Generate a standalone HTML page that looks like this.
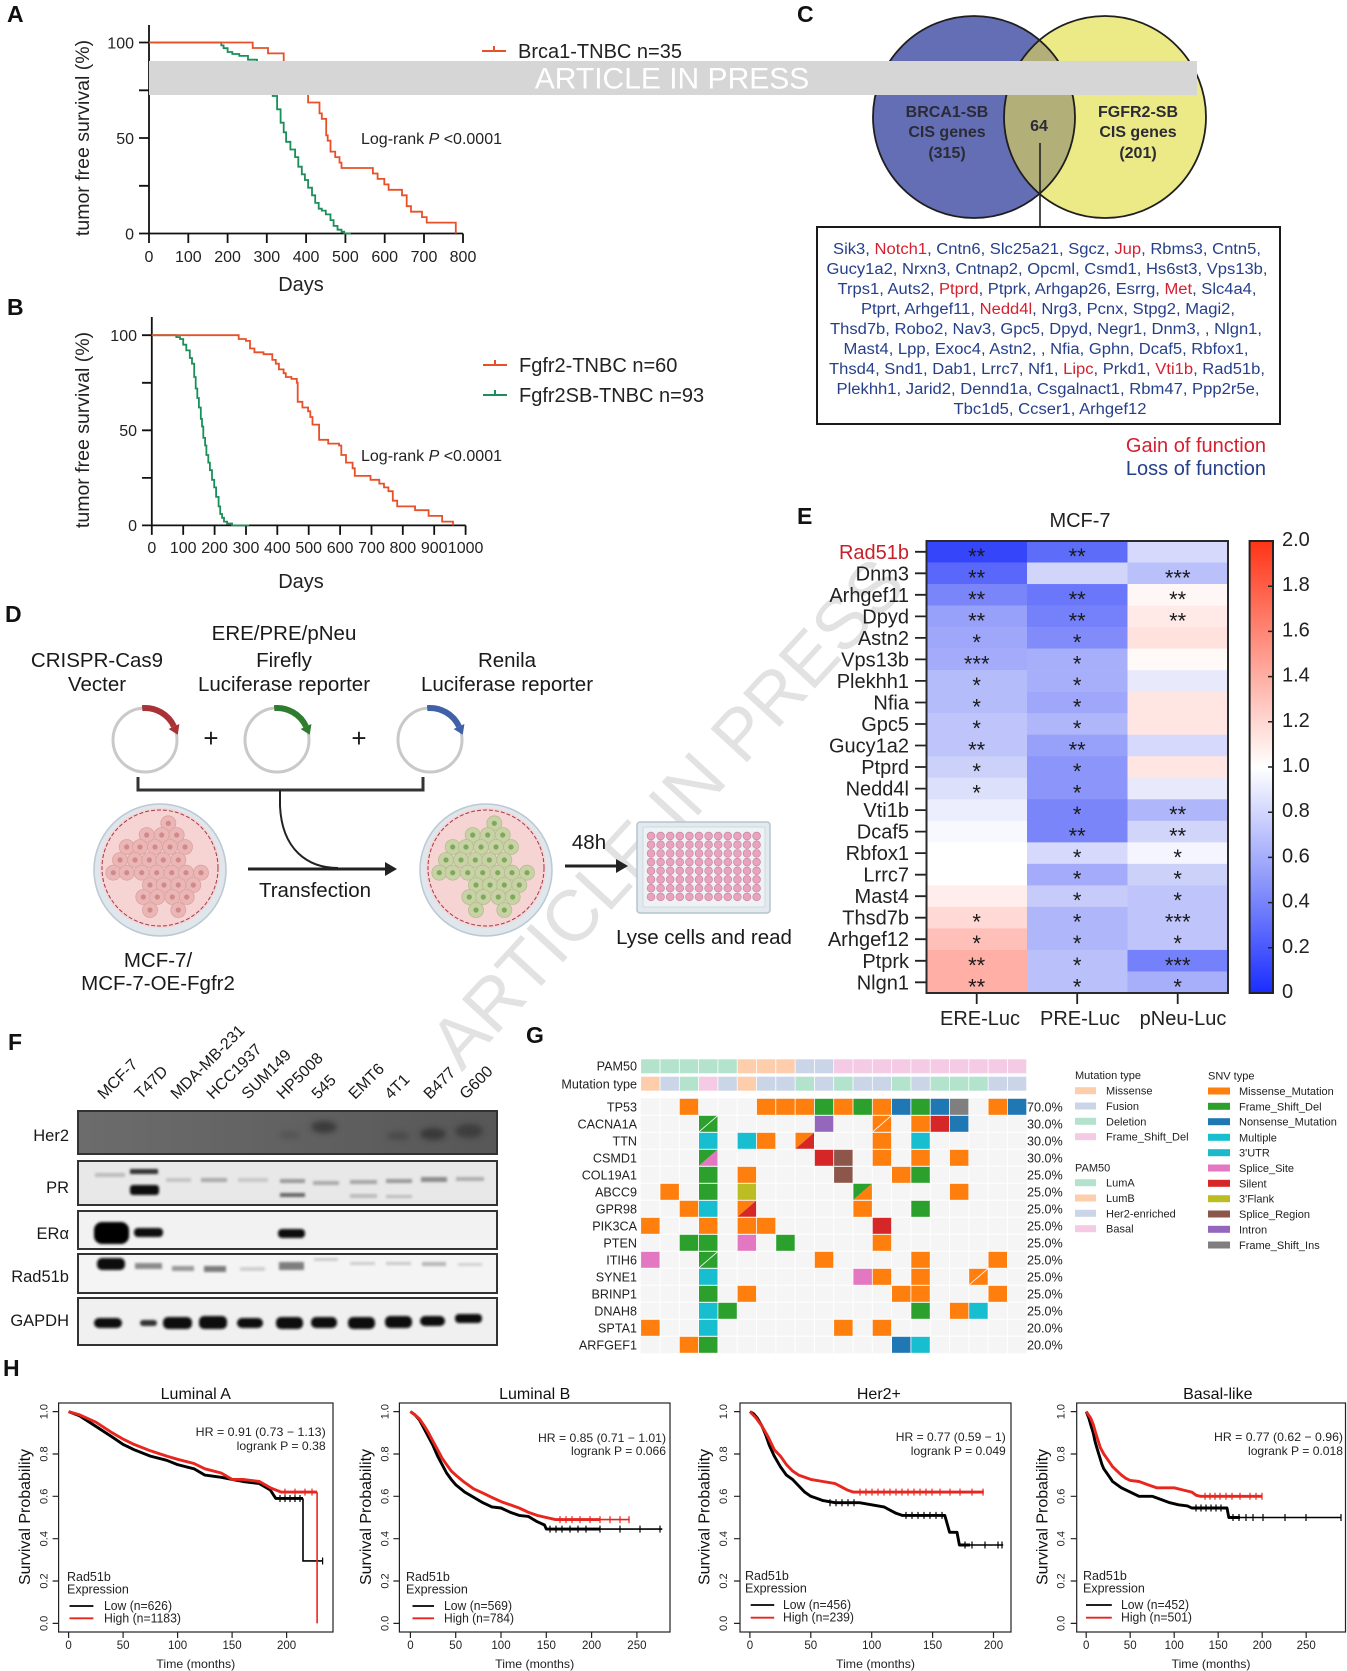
<!DOCTYPE html>
<html><head><meta charset="utf-8"><style>html,body{margin:0;padding:0;background:#fff}svg{display:block}</style></head>
<body>
<svg xmlns="http://www.w3.org/2000/svg" width="1347" height="1671" viewBox="0 0 1347 1671" font-family="'Liberation Sans', Arial, sans-serif">
<defs>
<filter id="b1" x="-50%" y="-50%" width="200%" height="200%"><feGaussianBlur stdDeviation="1.3"/></filter>
<filter id="b3" x="-50%" y="-50%" width="200%" height="200%"><feGaussianBlur stdDeviation="3"/></filter>
<linearGradient id="cbar" x1="0" y1="0" x2="0" y2="1">
<stop offset="0" stop-color="#ff3416"/><stop offset="0.25" stop-color="#ff9a8c"/><stop offset="0.5" stop-color="#ffffff"/><stop offset="0.75" stop-color="#8f99fb"/><stop offset="1" stop-color="#1a2dff"/></linearGradient>
<linearGradient id="her2bg" x1="0" y1="0" x2="1" y2="0"><stop offset="0" stop-color="#6c6c6c"/><stop offset="1" stop-color="#575757"/></linearGradient>
<clipPath id="blueclip"><circle cx="974" cy="117" r="101"/></clipPath>
</defs>
<rect width="1347" height="1671" fill="#fff"/>

<!-- Diagonal watermark (behind everything) -->
<text transform="translate(666,812) rotate(-47.4)" y="26" font-size="72" text-anchor="middle" textLength="660" lengthAdjust="spacingAndGlyphs" fill="#e2e2e2">ARTICLE IN PRESS</text>

<!-- Panel letters -->
<g font-weight="bold" font-size="23" fill="#111">
<text x="7" y="22">A</text><text x="7" y="315">B</text><text x="797" y="22">C</text><text x="5" y="622">D</text><text x="797" y="524">E</text><text x="8" y="1050">F</text><text x="526" y="1043">G</text><text x="3" y="1376">H</text>
</g>

<!-- ============ Panel A ============ -->
<g stroke="#111" stroke-width="1.8" fill="none">
<path d="M149,25 V233.5 H463"/>
<path d="M139,42.5 H149 M139,90.3 H149 M139,138 H149 M139,185.8 H149 M139,233.5 H149"/>
<path d="M149,233.5 v9.5 M188.3,233.5 v9.5 M227.6,233.5 v9.5 M266.8,233.5 v9.5 M306.1,233.5 v9.5 M345.4,233.5 v9.5 M384.7,233.5 v9.5 M424,233.5 v9.5 M463,233.5 v9.5"/>
</g>
<g font-size="16" fill="#222">
<g text-anchor="end"><text x="134" y="48.5">100</text><text x="134" y="144">50</text><text x="134" y="239.5">0</text></g>
<g text-anchor="middle"><text x="149" y="262">0</text><text x="188.3" y="262">100</text><text x="227.6" y="262">200</text><text x="266.8" y="262">300</text><text x="306.1" y="262">400</text><text x="345.4" y="262">500</text><text x="384.7" y="262">600</text><text x="424" y="262">700</text><text x="463" y="262">800</text></g>
<text x="361" y="144">Log-rank <tspan font-style="italic">P</tspan> &lt;0.0001</text>
</g>
<text x="301" y="291" font-size="20" text-anchor="middle" fill="#222">Days</text>
<text transform="translate(82,138) rotate(-90)" y="7" font-size="19.5" text-anchor="middle" fill="#222">tumor free survival (%)</text>
<path fill="none" stroke="#1a8f5a" stroke-width="1.8" d="M149,42.5 H221.3 V45.4 H223.6 V48.2 H227.6 V52 H232.3 V54 H239.3 V55.9 H248 V59.7 H257 V65.4 H262.9 V71.2 H266.8 V84.5 H272.7 V96 H277.1 V109.3 H280.6 V122.7 H283.7 V132.3 H286.1 V141.8 H290.4 V149.5 H295.1 V157.1 H298.3 V166.7 H301.8 V174.3 H304.9 V180 H308.1 V187.7 H312 V195.3 H315.2 V202.9 H318.7 V208.7 H321.8 V210.6 H325.8 V214.4 H330.5 V220.1 H333.6 V225.9 H337.5 V229.7 H341.5 V231.6 H344.2 V233.5 H350.9"/>
<path fill="none" stroke="#e8502a" stroke-width="1.8" d="M149,42.5 H252.7 V48 H268 V53.4 H283.7 V69.8 H294.3 V80.7 H306.1 V91.6 H308.1 V102.5 H319.5 V113.4 H321.8 V118.9 H326.2 V135.3 H327.7 V140.7 H330.5 V151.6 H335.2 V157.1 H339.5 V162.6 H341.5 V168 H372.9 V173.5 H377.6 V178.9 H384.3 V184.4 H388.6 V189.8 H402 V195.3 H406.7 V206.2 H411 V211.7 H422 V217.1 H426.7 V222.6 H455.8 V233.5"/>
<path d="M482,51 H506 M494,46 V51" stroke="#e8502a" stroke-width="2" fill="none"/>
<text x="518" y="58" font-size="20" fill="#222">Brca1-TNBC n=35</text>

<!-- ============ Panel B ============ -->
<g stroke="#111" stroke-width="1.8" fill="none">
<path d="M151.8,317 V525.4 H465.6"/>
<path d="M142,335.2 H151.8 M142,382.8 H151.8 M142,430.3 H151.8 M142,477.9 H151.8 M142,525.4 H151.8"/>
<path d="M151.8,525.4 v9.5 M183.2,525.4 v9.5 M214.6,525.4 v9.5 M246,525.4 v9.5 M277.3,525.4 v9.5 M308.7,525.4 v9.5 M340.1,525.4 v9.5 M371.5,525.4 v9.5 M402.8,525.4 v9.5 M434.2,525.4 v9.5 M465.6,525.4 v9.5"/>
</g>
<g font-size="16" fill="#222">
<g text-anchor="end"><text x="137" y="341">100</text><text x="137" y="436">50</text><text x="137" y="531">0</text></g>
<g text-anchor="middle"><text x="151.8" y="553">0</text><text x="183.2" y="553">100</text><text x="214.6" y="553">200</text><text x="246" y="553">300</text><text x="277.3" y="553">400</text><text x="308.7" y="553">500</text><text x="340.1" y="553">600</text><text x="371.5" y="553">700</text><text x="402.8" y="553">800</text><text x="434.2" y="553">900</text><text x="465.6" y="553">1000</text></g>
<text x="361" y="461">Log-rank <tspan font-style="italic">P</tspan> &lt;0.0001</text>
</g>
<text x="301" y="588" font-size="20" text-anchor="middle" fill="#222">Days</text>
<text transform="translate(82,430) rotate(-90)" y="7" font-size="19.5" text-anchor="middle" fill="#222">tumor free survival (%)</text>
<path fill="none" stroke="#1a8f5a" stroke-width="1.8" d="M151.8,335.2 H176.3 V337.1 H180 V339 H183.2 V344.7 H186.3 V350.4 H189.8 V358 H192 V363.7 H194.2 V377 H195.7 V388.5 H197.3 V398 H198.9 V407.5 H200.8 V418.9 H202 V426.5 H203.3 V437.9 H205.1 V445.5 H206.4 V455 H208.3 V462.6 H209.9 V470.2 H212 V479.8 H214.2 V487.4 H216.1 V496.9 H218.6 V506.4 H220.2 V514 H222.1 V517.8 H224 V521.6 H227.1 V523.5 H232.1 V525.4 H249.1"/>
<path fill="none" stroke="#e8502a" stroke-width="1.8" d="M151.8,335.2 H238.7 V339 H245.9 V340.9 H250 V348.5 H254.4 V352.3 H263.5 V354.2 H272.3 V359.9 H275.8 V363.7 H278.9 V369.4 H283.6 V373.2 H285.8 V377 H291.4 V378.9 H296.8 V382.7 H297.7 V401.8 H302.4 V407.5 H308.1 V411.3 H310.3 V417 H312.5 V424.6 H319.1 V439.8 H328.2 V443.6 H339.1 V445.5 H341.3 V455 H346 V462.6 H352.6 V468.3 H354.8 V475.9 H370.5 V479.8 H379.3 V483.6 H384 V487.4 H388.4 V491.2 H392.8 V500.7 H397.2 V506.4 H415.1 V510.2 H428.6 V515.9 H442.1 V521.6 H453 V525.4"/>
<path d="M483,365 H507 M495,360 V365" stroke="#e8502a" stroke-width="2" fill="none"/>
<path d="M483,395 H507 M495,390 V395" stroke="#1a8f5a" stroke-width="2" fill="none"/>
<g font-size="20" fill="#222"><text x="519" y="372">Fgfr2-TNBC n=60</text><text x="519" y="402">Fgfr2SB-TNBC n=93</text></g>

<!-- ============ Panel C (Venn) ============ -->
<circle cx="974" cy="117" r="101" fill="#646eb4"/>
<circle cx="1105" cy="117" r="101" fill="#ebea86"/>
<circle cx="1105" cy="117" r="101" fill="#b3af79" clip-path="url(#blueclip)"/>
<circle cx="974" cy="117" r="101" fill="none" stroke="#1e1e1e" stroke-width="1.8"/>
<circle cx="1105" cy="117" r="101" fill="none" stroke="#1e1e1e" stroke-width="1.8"/>
<g font-size="16" font-weight="bold" fill="#2b2b36" text-anchor="middle">
<text x="947" y="117">BRCA1-SB</text><text x="947" y="137">CIS genes</text><text x="947" y="158">(315)</text>
<text x="1138" y="117">FGFR2-SB</text><text x="1138" y="137">CIS genes</text><text x="1138" y="158">(201)</text>
<text x="1039" y="131">64</text>
</g>
<line x1="1040" y1="143" x2="1040" y2="227" stroke="#222" stroke-width="1.6"/>
<rect x="817" y="227" width="463" height="197" fill="#fff" stroke="#1a1a1a" stroke-width="2"/>
<g font-size="15.5" fill="#253f8a" text-anchor="middle">
<text x="1047" y="254" textLength="428" lengthAdjust="spacingAndGlyphs">Sik3, <tspan fill="#d42030">Notch1</tspan>, Cntn6, Slc25a21, Sgcz, <tspan fill="#d42030">Jup</tspan>, Rbms3, Cntn5,</text>
<text x="1047" y="274" textLength="441" lengthAdjust="spacingAndGlyphs">Gucy1a2, Nrxn3, Cntnap2, Opcml, Csmd1, Hs6st3, Vps13b,</text>
<text x="1047" y="294" textLength="419" lengthAdjust="spacingAndGlyphs">Trps1, Auts2, <tspan fill="#d42030">Ptprd</tspan>, Ptprk, Arhgap26, Esrrg, <tspan fill="#d42030">Met</tspan>, Slc4a4,</text>
<text x="1048" y="314" textLength="374" lengthAdjust="spacingAndGlyphs">Ptprt, Arhgef11, <tspan fill="#d42030">Nedd4l</tspan>, Nrg3, Pcnx, Stpg2, Magi2,</text>
<text x="1046" y="334" textLength="432" lengthAdjust="spacingAndGlyphs">Thsd7b, Robo2, Nav3, Gpc5, Dpyd, Negr1, Dnm3, , Nlgn1,</text>
<text x="1046" y="354" textLength="405" lengthAdjust="spacingAndGlyphs">Mast4, Lpp, Exoc4, Astn2, , Nfia, Gphn, Dcaf5, Rbfox1,</text>
<text x="1047" y="374" textLength="436" lengthAdjust="spacingAndGlyphs">Thsd4, Snd1, Dab1, Lrrc7, Nf1, <tspan fill="#d42030">Lipc</tspan>, Prkd1, <tspan fill="#d42030">Vti1b</tspan>, Rad51b,</text>
<text x="1048" y="394" textLength="423" lengthAdjust="spacingAndGlyphs">Plekhh1, Jarid2, Dennd1a, Csgalnact1, Rbm47, Ppp2r5e,</text>
<text x="1050" y="414" textLength="193" lengthAdjust="spacingAndGlyphs">Tbc1d5, Ccser1, Arhgef12</text>
</g>
<g font-size="20" text-anchor="end"><text x="1266" y="452" fill="#d42030">Gain of function</text><text x="1266" y="475" fill="#253f8a">Loss of function</text></g>

<!-- Banner -->
<rect x="149" y="61" width="1048" height="34" fill="#d6d6d6"/>
<text x="672" y="88.5" font-size="30" fill="#fff" text-anchor="middle">ARTICLE IN PRESS</text>

<!-- ============ Panel D ============ -->
<g font-size="20.5" fill="#1a1a1a" text-anchor="middle">
<text x="97" y="667">CRISPR-Cas9</text><text x="97" y="691">Vecter</text>
<text x="284" y="640">ERE/PRE/pNeu</text><text x="284" y="667">Firefly</text><text x="284" y="691">Luciferase reporter</text>
<text x="507" y="667">Renila</text><text x="507" y="691">Luciferase reporter</text>
<text x="315" y="897">Transfection</text>
<text x="589" y="849">48h</text>
<text x="704" y="944">Lyse cells and read</text>
<text x="158" y="967">MCF-7/</text><text x="158" y="990">MCF-7-OE-Fgfr2</text>
</g>
<g fill="none" stroke="#c9c9c9" stroke-width="3"><circle cx="145" cy="740" r="32"/><circle cx="277" cy="740" r="32"/><circle cx="430" cy="740" r="32"/></g>
<path d="M142.2,708.1 A32,32 0 0 1 174,726.5" fill="none" stroke="#a83238" stroke-width="6"/>
<polygon points="179.4,724 168.6,729 177.8,734.7" fill="#a83238"/>
<path d="M274.2,708.1 A32,32 0 0 1 306,726.5" fill="none" stroke="#2e7d2e" stroke-width="6"/>
<polygon points="311.4,724 300.6,729 309.8,734.7" fill="#2e7d2e"/>
<path d="M427.2,708.1 A32,32 0 0 1 459,726.5" fill="none" stroke="#4060a8" stroke-width="6"/>
<polygon points="464.4,724 453.6,729 462.8,734.7" fill="#4060a8"/>
<g font-size="26" fill="#1a1a1a" text-anchor="middle"><text x="211" y="747">+</text><text x="359" y="747">+</text></g>
<path d="M138,777 V790 H423 V777" fill="none" stroke="#333" stroke-width="3"/>
<path d="M280,790 V806 C282,850 308,868 338,868" fill="none" stroke="#222" stroke-width="2"/>
<line x1="248" y1="869" x2="386" y2="869" stroke="#222" stroke-width="3"/>
<polygon points="385,862 397,869 385,876" fill="#222"/>
<line x1="565" y1="866" x2="617" y2="866" stroke="#222" stroke-width="3"/>
<polygon points="616,859 628,866 616,873" fill="#222"/>
<!-- dish 1 -->
<circle cx="160" cy="870" r="66" fill="#dfe6ec" stroke="#bcc9d3" stroke-width="1.5"/>
<circle cx="160" cy="868" r="60" fill="#f7d4d4"/>
<circle cx="160" cy="868" r="58" fill="none" stroke="#a33a4a" stroke-width="1" stroke-dasharray="4 2"/>
<g fill="#ebb6b6" stroke="#dba2a2" stroke-width="0.8">
<circle cx="168.3" cy="823.3" r="7.5"/><circle cx="146.7" cy="835" r="7.5"/><circle cx="161.7" cy="835" r="7.5"/><circle cx="176.7" cy="835" r="7.5"/>
<circle cx="126.7" cy="847" r="7.5"/><circle cx="140" cy="847" r="7.5"/><circle cx="155" cy="847" r="7.5"/><circle cx="170" cy="847" r="7.5"/><circle cx="185" cy="847" r="7.5"/>
<circle cx="120" cy="860" r="7.5"/><circle cx="135" cy="860" r="7.5"/><circle cx="149.3" cy="860" r="7.5"/><circle cx="163.3" cy="860" r="7.5"/><circle cx="178.3" cy="860" r="7.5"/>
<circle cx="113.3" cy="872.7" r="7.5"/><circle cx="126.7" cy="872.7" r="7.5"/><circle cx="141.7" cy="872.7" r="7.5"/><circle cx="156.7" cy="872.7" r="7.5"/><circle cx="171.7" cy="872.7" r="7.5"/><circle cx="186" cy="872.7" r="7.5"/><circle cx="201" cy="872.7" r="7.5"/>
<circle cx="150" cy="885" r="7.5"/><circle cx="164" cy="885" r="7.5"/><circle cx="178.3" cy="885" r="7.5"/><circle cx="193.3" cy="885" r="7.5"/>
<circle cx="143.3" cy="897" r="7.5"/><circle cx="157.3" cy="897" r="7.5"/><circle cx="172.3" cy="897" r="7.5"/><circle cx="186.7" cy="897" r="7.5"/>
<circle cx="150" cy="910" r="7.5"/><circle cx="178.3" cy="910" r="7.5"/>
</g>
<g fill="#d08a8a">
<circle cx="168.3" cy="823.3" r="2.6"/><circle cx="146.7" cy="835" r="2.6"/><circle cx="161.7" cy="835" r="2.6"/><circle cx="176.7" cy="835" r="2.6"/>
<circle cx="126.7" cy="847" r="2.6"/><circle cx="140" cy="847" r="2.6"/><circle cx="155" cy="847" r="2.6"/><circle cx="170" cy="847" r="2.6"/><circle cx="185" cy="847" r="2.6"/>
<circle cx="120" cy="860" r="2.6"/><circle cx="135" cy="860" r="2.6"/><circle cx="149.3" cy="860" r="2.6"/><circle cx="163.3" cy="860" r="2.6"/><circle cx="178.3" cy="860" r="2.6"/>
<circle cx="113.3" cy="872.7" r="2.6"/><circle cx="126.7" cy="872.7" r="2.6"/><circle cx="141.7" cy="872.7" r="2.6"/><circle cx="156.7" cy="872.7" r="2.6"/><circle cx="171.7" cy="872.7" r="2.6"/><circle cx="186" cy="872.7" r="2.6"/><circle cx="201" cy="872.7" r="2.6"/>
<circle cx="150" cy="885" r="2.6"/><circle cx="164" cy="885" r="2.6"/><circle cx="178.3" cy="885" r="2.6"/><circle cx="193.3" cy="885" r="2.6"/>
<circle cx="143.3" cy="897" r="2.6"/><circle cx="157.3" cy="897" r="2.6"/><circle cx="172.3" cy="897" r="2.6"/><circle cx="186.7" cy="897" r="2.6"/>
<circle cx="150" cy="910" r="2.6"/><circle cx="178.3" cy="910" r="2.6"/>
</g>
<!-- dish 2 -->
<circle cx="486" cy="870" r="66" fill="#dfe6ec" stroke="#bcc9d3" stroke-width="1.5"/>
<circle cx="486" cy="868" r="60" fill="#f7d4d4"/>
<circle cx="486" cy="868" r="58" fill="none" stroke="#a33a4a" stroke-width="1" stroke-dasharray="4 2"/>
<g transform="translate(326,0)">
<g fill="#c8d2a6" stroke="#b2bf8c" stroke-width="0.8">
<circle cx="168.3" cy="823.3" r="7.5"/><circle cx="146.7" cy="835" r="7.5"/><circle cx="161.7" cy="835" r="7.5"/><circle cx="176.7" cy="835" r="7.5"/>
<circle cx="126.7" cy="847" r="7.5"/><circle cx="140" cy="847" r="7.5"/><circle cx="155" cy="847" r="7.5"/><circle cx="170" cy="847" r="7.5"/><circle cx="185" cy="847" r="7.5"/>
<circle cx="120" cy="860" r="7.5"/><circle cx="135" cy="860" r="7.5"/><circle cx="149.3" cy="860" r="7.5"/><circle cx="163.3" cy="860" r="7.5"/><circle cx="178.3" cy="860" r="7.5"/>
<circle cx="113.3" cy="872.7" r="7.5"/><circle cx="126.7" cy="872.7" r="7.5"/><circle cx="141.7" cy="872.7" r="7.5"/><circle cx="156.7" cy="872.7" r="7.5"/><circle cx="171.7" cy="872.7" r="7.5"/><circle cx="186" cy="872.7" r="7.5"/><circle cx="201" cy="872.7" r="7.5"/>
<circle cx="150" cy="885" r="7.5"/><circle cx="164" cy="885" r="7.5"/><circle cx="178.3" cy="885" r="7.5"/><circle cx="193.3" cy="885" r="7.5"/>
<circle cx="143.3" cy="897" r="7.5"/><circle cx="157.3" cy="897" r="7.5"/><circle cx="172.3" cy="897" r="7.5"/><circle cx="186.7" cy="897" r="7.5"/>
<circle cx="150" cy="910" r="7.5"/><circle cx="178.3" cy="910" r="7.5"/>
</g>
<g fill="#7fa95a">
<circle cx="168.3" cy="823.3" r="2.6"/><circle cx="146.7" cy="835" r="2.6"/><circle cx="161.7" cy="835" r="2.6"/><circle cx="176.7" cy="835" r="2.6"/>
<circle cx="126.7" cy="847" r="2.6"/><circle cx="140" cy="847" r="2.6"/><circle cx="155" cy="847" r="2.6"/><circle cx="170" cy="847" r="2.6"/><circle cx="185" cy="847" r="2.6"/>
<circle cx="120" cy="860" r="2.6"/><circle cx="135" cy="860" r="2.6"/><circle cx="149.3" cy="860" r="2.6"/><circle cx="163.3" cy="860" r="2.6"/><circle cx="178.3" cy="860" r="2.6"/>
<circle cx="113.3" cy="872.7" r="2.6"/><circle cx="126.7" cy="872.7" r="2.6"/><circle cx="141.7" cy="872.7" r="2.6"/><circle cx="156.7" cy="872.7" r="2.6"/><circle cx="171.7" cy="872.7" r="2.6"/><circle cx="186" cy="872.7" r="2.6"/><circle cx="201" cy="872.7" r="2.6"/>
<circle cx="150" cy="885" r="2.6"/><circle cx="164" cy="885" r="2.6"/><circle cx="178.3" cy="885" r="2.6"/><circle cx="193.3" cy="885" r="2.6"/>
<circle cx="143.3" cy="897" r="2.6"/><circle cx="157.3" cy="897" r="2.6"/><circle cx="172.3" cy="897" r="2.6"/><circle cx="186.7" cy="897" r="2.6"/>
<circle cx="150" cy="910" r="2.6"/><circle cx="178.3" cy="910" r="2.6"/>
</g>
</g>
<!-- plate -->
<rect x="637" y="822" width="133" height="91" rx="3" fill="#e2eaef" stroke="#b5c5cf" stroke-width="1.5"/>
<rect x="643" y="827" width="122" height="80" fill="#edf2f5" stroke="#c8d4db" stroke-width="0.8"/>
<g fill="#e9a3bd" stroke="#c87c9a" stroke-width="0.6" id="wellrow">
<circle cx="651" cy="836" r="3.9"/><circle cx="660.6" cy="836" r="3.9"/><circle cx="670.2" cy="836" r="3.9"/><circle cx="679.8" cy="836" r="3.9"/><circle cx="689.4" cy="836" r="3.9"/><circle cx="699" cy="836" r="3.9"/><circle cx="708.6" cy="836" r="3.9"/><circle cx="718.2" cy="836" r="3.9"/><circle cx="727.8" cy="836" r="3.9"/><circle cx="737.4" cy="836" r="3.9"/><circle cx="747" cy="836" r="3.9"/><circle cx="756.6" cy="836" r="3.9"/>
</g>
<use href="#wellrow" y="8.7"/><use href="#wellrow" y="17.4"/><use href="#wellrow" y="26.1"/><use href="#wellrow" y="34.8"/><use href="#wellrow" y="43.5"/><use href="#wellrow" y="52.2"/><use href="#wellrow" y="60.9"/>

<!-- ============ Panel E (heatmap) ============ -->
<text x="1080" y="527" font-size="20" text-anchor="middle" fill="#222">MCF-7</text>
<g font-size="20" fill="#222">
<g><rect x="926.5" y="541" width="100.6" height="21.8" fill="#3546fa"/><rect x="1027" y="541" width="100.6" height="21.8" fill="#5e6cfa"/><rect x="1127.5" y="541" width="100.5" height="21.8" fill="#d6d9fb"/><text x="909" y="558.8" text-anchor="end" fill="#c8202a">Rad51b</text></g>
<g transform="translate(0,21.52)"><rect x="926.5" y="541" width="100.6" height="21.8" fill="#5968fa"/><rect x="1027" y="541" width="100.6" height="21.8" fill="#d1d5fa"/><rect x="1127.5" y="541" width="100.5" height="21.8" fill="#bac0fa"/><text x="909" y="558.8" text-anchor="end">Dnm3</text></g>
<g transform="translate(0,43.05)"><rect x="926.5" y="541" width="100.6" height="21.8" fill="#7a85fa"/><rect x="1027" y="541" width="100.6" height="21.8" fill="#6a77fa"/><rect x="1127.5" y="541" width="100.5" height="21.8" fill="#fff7f6"/><text x="909" y="558.8" text-anchor="end">Arhgef11</text></g>
<g transform="translate(0,64.57)"><rect x="926.5" y="541" width="100.6" height="21.8" fill="#98a1fa"/><rect x="1027" y="541" width="100.6" height="21.8" fill="#7581fa"/><rect x="1127.5" y="541" width="100.5" height="21.8" fill="#ffeae8"/><text x="909" y="558.8" text-anchor="end">Dpyd</text></g>
<g transform="translate(0,86.1)"><rect x="926.5" y="541" width="100.6" height="21.8" fill="#9ea7fa"/><rect x="1027" y="541" width="100.6" height="21.8" fill="#818cfa"/><rect x="1127.5" y="541" width="100.5" height="21.8" fill="#ffe2de"/><text x="909" y="558.8" text-anchor="end">Astn2</text></g>
<g transform="translate(0,107.62)"><rect x="926.5" y="541" width="100.6" height="21.8" fill="#a3abfa"/><rect x="1027" y="541" width="100.6" height="21.8" fill="#a8affa"/><rect x="1127.5" y="541" width="100.5" height="21.8" fill="#fff9f8"/><text x="909" y="558.8" text-anchor="end">Vps13b</text></g>
<g transform="translate(0,129.14)"><rect x="926.5" y="541" width="100.6" height="21.8" fill="#b5bcfa"/><rect x="1027" y="541" width="100.6" height="21.8" fill="#a8affa"/><rect x="1127.5" y="541" width="100.5" height="21.8" fill="#e8eafc"/><text x="909" y="558.8" text-anchor="end">Plekhh1</text></g>
<g transform="translate(0,150.67)"><rect x="926.5" y="541" width="100.6" height="21.8" fill="#b5bcfa"/><rect x="1027" y="541" width="100.6" height="21.8" fill="#9ea7fa"/><rect x="1127.5" y="541" width="100.5" height="21.8" fill="#ffe6e3"/><text x="909" y="558.8" text-anchor="end">Nfia</text></g>
<g transform="translate(0,172.19)"><rect x="926.5" y="541" width="100.6" height="21.8" fill="#bfc4fa"/><rect x="1027" y="541" width="100.6" height="21.8" fill="#afb6fa"/><rect x="1127.5" y="541" width="100.5" height="21.8" fill="#ffe6e3"/><text x="909" y="558.8" text-anchor="end">Gpc5</text></g>
<g transform="translate(0,193.72)"><rect x="926.5" y="541" width="100.6" height="21.8" fill="#bfc4fa"/><rect x="1027" y="541" width="100.6" height="21.8" fill="#98a1fa"/><rect x="1127.5" y="541" width="100.5" height="21.8" fill="#d6d9fb"/><text x="909" y="558.8" text-anchor="end">Gucy1a2</text></g>
<g transform="translate(0,215.24)"><rect x="926.5" y="541" width="100.6" height="21.8" fill="#ccd1fa"/><rect x="1027" y="541" width="100.6" height="21.8" fill="#8c96fa"/><rect x="1127.5" y="541" width="100.5" height="21.8" fill="#ffe6e3"/><text x="909" y="558.8" text-anchor="end">Ptprd</text></g>
<g transform="translate(0,236.76)"><rect x="926.5" y="541" width="100.6" height="21.8" fill="#dde0fb"/><rect x="1027" y="541" width="100.6" height="21.8" fill="#8c96fa"/><rect x="1127.5" y="541" width="100.5" height="21.8" fill="#e8eafc"/><text x="909" y="558.8" text-anchor="end">Nedd4l</text></g>
<g transform="translate(0,258.29)"><rect x="926.5" y="541" width="100.6" height="21.8" fill="#edeefd"/><rect x="1027" y="541" width="100.6" height="21.8" fill="#7a85fa"/><rect x="1127.5" y="541" width="100.5" height="21.8" fill="#afb6fa"/><text x="909" y="558.8" text-anchor="end">Vti1b</text></g>
<g transform="translate(0,279.81)"><rect x="926.5" y="541" width="100.6" height="21.8" fill="#f8f9fe"/><rect x="1027" y="541" width="100.6" height="21.8" fill="#7a85fa"/><rect x="1127.5" y="541" width="100.5" height="21.8" fill="#d1d5fa"/><text x="909" y="558.8" text-anchor="end">Dcaf5</text></g>
<g transform="translate(0,301.34)"><rect x="926.5" y="541" width="100.6" height="21.8" fill="#ffffff"/><rect x="1027" y="541" width="100.6" height="21.8" fill="#d6d9fb"/><rect x="1127.5" y="541" width="100.5" height="21.8" fill="#f4f5fe"/><text x="909" y="558.8" text-anchor="end">Rbfox1</text></g>
<g transform="translate(0,322.86)"><rect x="926.5" y="541" width="100.6" height="21.8" fill="#ffffff"/><rect x="1027" y="541" width="100.6" height="21.8" fill="#a3abfa"/><rect x="1127.5" y="541" width="100.5" height="21.8" fill="#ccd1fa"/><text x="909" y="558.8" text-anchor="end">Lrrc7</text></g>
<g transform="translate(0,344.38)"><rect x="926.5" y="541" width="100.6" height="21.8" fill="#ffeeec"/><rect x="1027" y="541" width="100.6" height="21.8" fill="#c6cbfa"/><rect x="1127.5" y="541" width="100.5" height="21.8" fill="#bfc4fa"/><text x="909" y="558.8" text-anchor="end">Mast4</text></g>
<g transform="translate(0,365.91)"><rect x="926.5" y="541" width="100.6" height="21.8" fill="#ffd9d5"/><rect x="1027" y="541" width="100.6" height="21.8" fill="#afb6fa"/><rect x="1127.5" y="541" width="100.5" height="21.8" fill="#bfc4fa"/><text x="909" y="558.8" text-anchor="end">Thsd7b</text></g>
<g transform="translate(0,387.43)"><rect x="926.5" y="541" width="100.6" height="21.8" fill="#ffc0b9"/><rect x="1027" y="541" width="100.6" height="21.8" fill="#afb6fa"/><rect x="1127.5" y="541" width="100.5" height="21.8" fill="#bfc4fa"/><text x="909" y="558.8" text-anchor="end">Arhgef12</text></g>
<g transform="translate(0,408.96)"><rect x="926.5" y="541" width="100.6" height="21.8" fill="#ffafa6"/><rect x="1027" y="541" width="100.6" height="21.8" fill="#bac0fa"/><rect x="1127.5" y="541" width="100.5" height="21.8" fill="#7581fa"/><text x="909" y="558.8" text-anchor="end">Ptprk</text></g>
<g transform="translate(0,430.48)"><rect x="926.5" y="541" width="100.6" height="21.5" fill="#ffafa6"/><rect x="1027" y="541" width="100.6" height="21.5" fill="#bac0fa"/><rect x="1127.5" y="541" width="100.5" height="21.5" fill="#a8affa"/><text x="909" y="558.8" text-anchor="end">Nlgn1</text></g>
</g>
<path stroke="#222" stroke-width="1.8" d="M915,551.8 H926 M915,573.3 H926 M915,594.8 H926 M915,616.4 H926 M915,637.9 H926 M915,659.4 H926 M915,680.9 H926 M915,702.5 H926 M915,724 H926 M915,745.5 H926 M915,767 H926 M915,788.6 H926 M915,810.1 H926 M915,831.6 H926 M915,853.1 H926 M915,874.7 H926 M915,896.2 H926 M915,917.7 H926 M915,939.2 H926 M915,960.8 H926 M915,982.3 H926 M976.7,993 V1004 M1077.2,993 V1004 M1177.7,993 V1004"/>
<g font-size="22" fill="#1a1a1a" text-anchor="middle">
<text x="976.7" y="563.8">**</text><text x="1077.2" y="563.8">**</text>
<text x="976.7" y="585.3">**</text><text x="1177.7" y="585.3">***</text>
<text x="976.7" y="606.8">**</text><text x="1077.2" y="606.8">**</text><text x="1177.7" y="606.8">**</text>
<text x="976.7" y="628.4">**</text><text x="1077.2" y="628.4">**</text><text x="1177.7" y="628.4">**</text>
<text x="976.7" y="649.9">*</text><text x="1077.2" y="649.9">*</text>
<text x="976.7" y="671.4">***</text><text x="1077.2" y="671.4">*</text>
<text x="976.7" y="692.9">*</text><text x="1077.2" y="692.9">*</text>
<text x="976.7" y="714.5">*</text><text x="1077.2" y="714.5">*</text>
<text x="976.7" y="736">*</text><text x="1077.2" y="736">*</text>
<text x="976.7" y="757.5">**</text><text x="1077.2" y="757.5">**</text>
<text x="976.7" y="779">*</text><text x="1077.2" y="779">*</text>
<text x="976.7" y="800.6">*</text><text x="1077.2" y="800.6">*</text>
<text x="1077.2" y="822.1">*</text><text x="1177.7" y="822.1">**</text>
<text x="1077.2" y="843.6">**</text><text x="1177.7" y="843.6">**</text>
<text x="1077.2" y="865.1">*</text><text x="1177.7" y="865.1">*</text>
<text x="1077.2" y="886.7">*</text><text x="1177.7" y="886.7">*</text>
<text x="1077.2" y="908.2">*</text><text x="1177.7" y="908.2">*</text>
<text x="976.7" y="929.7">*</text><text x="1077.2" y="929.7">*</text><text x="1177.7" y="929.7">***</text>
<text x="976.7" y="951.2">*</text><text x="1077.2" y="951.2">*</text><text x="1177.7" y="951.2">*</text>
<text x="976.7" y="972.8">**</text><text x="1077.2" y="972.8">*</text><text x="1177.7" y="972.8">***</text>
<text x="976.7" y="994.3">**</text><text x="1077.2" y="994.3">*</text><text x="1177.7" y="994.3">*</text>
</g>
<rect x="926.5" y="541" width="301.5" height="452" fill="none" stroke="#2a2a2a" stroke-width="2"/>
<g font-size="20" fill="#222" text-anchor="middle"><text x="980" y="1025">ERE-Luc</text><text x="1080" y="1025">PRE-Luc</text><text x="1183" y="1025">pNeu-Luc</text></g>
<rect x="1249.6" y="541" width="23.4" height="452" fill="url(#cbar)" stroke="#222" stroke-width="2"/>
<path stroke="#222" stroke-width="1.5" d="M1268,586.2 H1273 M1268,631.4 H1273 M1268,676.6 H1273 M1268,721.8 H1273 M1268,767 H1273 M1268,812.2 H1273 M1268,857.4 H1273 M1268,902.6 H1273 M1268,947.8 H1273"/>
<g font-size="20" fill="#222">
<text x="1282" y="546">2.0</text><text x="1282" y="591.2">1.8</text><text x="1282" y="636.4">1.6</text><text x="1282" y="681.6">1.4</text><text x="1282" y="726.8">1.2</text><text x="1282" y="772">1.0</text><text x="1282" y="817.2">0.8</text><text x="1282" y="862.4">0.6</text><text x="1282" y="907.6">0.4</text><text x="1282" y="952.8">0.2</text><text x="1282" y="998">0</text>
</g>

<!-- ============ Panel F (western) ============ -->
<g font-size="16" fill="#1a1a1a">
<text transform="translate(104,1100) rotate(-45)">MCF-7</text>
<text transform="translate(141,1100) rotate(-45)">T47D</text>
<text transform="translate(177,1100) rotate(-45)">MDA-MB-231</text>
<text transform="translate(213,1100) rotate(-45)">HCC1937</text>
<text transform="translate(248,1100) rotate(-45)">SUM149</text>
<text transform="translate(283,1100) rotate(-45)">HP5008</text>
<text transform="translate(318,1100) rotate(-45)">545</text>
<text transform="translate(355,1100) rotate(-45)">EMT6</text>
<text transform="translate(391,1100) rotate(-45)">4T1</text>
<text transform="translate(430,1100) rotate(-45)">B477</text>
<text transform="translate(466,1100) rotate(-45)">G600</text>
</g>
<g font-size="16.5" fill="#1a1a1a" text-anchor="end">
<text x="69" y="1141">Her2</text><text x="69" y="1193">PR</text><text x="69" y="1239">ERα</text><text x="69" y="1282">Rad51b</text><text x="69" y="1326">GAPDH</text>
</g>
<rect x="78" y="1111" width="419" height="43" fill="url(#her2bg)"/>
<g filter="url(#b3)">
<ellipse cx="324" cy="1127" rx="13" ry="6" fill="#3a3a3a"/>
<ellipse cx="290" cy="1135" rx="11" ry="4" fill="#555"/>
<ellipse cx="398" cy="1136" rx="12" ry="4" fill="#4a4a4a"/>
<ellipse cx="433" cy="1134" rx="13" ry="6" fill="#383838"/>
<ellipse cx="469" cy="1131" rx="14" ry="7" fill="#3e3e3e"/>
</g>
<rect x="78" y="1111" width="419" height="43" fill="none" stroke="#333" stroke-width="2"/>
<rect x="78" y="1161" width="419" height="44" fill="#e8e8e8"/>
<g filter="url(#b1)">
<rect x="95" y="1173" width="30" height="4" fill="#bcbcbc"/>
<rect x="130" y="1169" width="28" height="5" fill="#333"/>
<rect x="130" y="1185" width="29" height="10" rx="3" fill="#0d0d0d"/>
<rect x="166" y="1178" width="25" height="4" fill="#c4c4c4"/>
<rect x="201" y="1178" width="26" height="4" fill="#a8a8a8"/>
<rect x="238" y="1178" width="30" height="4" fill="#c8c8c8"/>
<rect x="280" y="1179" width="25" height="4" fill="#9a9a9a"/>
<rect x="280" y="1193" width="25" height="4" fill="#666"/>
<rect x="313" y="1181" width="26" height="4" fill="#aaa"/>
<rect x="350" y="1180" width="27" height="4" fill="#a6a6a6"/>
<rect x="350" y="1194" width="27" height="4" fill="#bbb"/>
<rect x="386" y="1179" width="26" height="4" fill="#999"/>
<rect x="386" y="1195" width="26" height="3" fill="#bbb"/>
<rect x="421" y="1177" width="26" height="5" fill="#8c8c8c"/>
<rect x="456" y="1177" width="28" height="4" fill="#adadad"/>
</g>
<rect x="78" y="1161" width="419" height="44" fill="none" stroke="#333" stroke-width="2"/>
<rect x="78" y="1211" width="419" height="38" fill="#f2f2f2"/>
<g filter="url(#b1)">
<rect x="94" y="1222" width="35" height="22" rx="8" fill="#050505"/>
<rect x="134" y="1228" width="29" height="9" rx="4" fill="#0a0a0a"/>
<rect x="278" y="1229" width="27" height="9" rx="4" fill="#0a0a0a"/>
</g>
<rect x="78" y="1211" width="419" height="38" fill="none" stroke="#333" stroke-width="2"/>
<rect x="78" y="1254" width="419" height="39" fill="#f4f4f4"/>
<g filter="url(#b1)">
<rect x="97" y="1258" width="28" height="12" rx="5" fill="#0d0d0d"/>
<rect x="135" y="1263" width="27" height="6" fill="#8a8a8a"/>
<rect x="172" y="1266" width="22" height="5" fill="#9a9a9a"/>
<rect x="204" y="1266" width="22" height="6" fill="#7a7a7a"/>
<rect x="240" y="1267" width="25" height="4" fill="#cfcfcf"/>
<rect x="279" y="1262" width="25" height="8" fill="#7e7e7e"/>
<rect x="314" y="1258" width="24" height="3" fill="#cccccc"/>
<rect x="350" y="1262" width="25" height="3" fill="#cccccc"/>
<rect x="386" y="1262" width="25" height="3" fill="#c8c8c8"/>
<rect x="422" y="1262" width="24" height="4" fill="#b5b5b5"/>
<rect x="458" y="1263" width="24" height="3" fill="#d0d0d0"/>
</g>
<rect x="78" y="1254" width="419" height="39" fill="none" stroke="#333" stroke-width="2"/>
<rect x="78" y="1298" width="419" height="47" fill="#f0f0f0"/>
<g filter="url(#b1)" fill="#0d0d0d">
<rect x="94" y="1318" width="28" height="10" rx="5"/>
<rect x="140" y="1320" width="17" height="6" rx="3" fill="#333"/>
<rect x="163" y="1317" width="29" height="12" rx="5"/>
<rect x="199" y="1316" width="28" height="13" rx="5"/>
<rect x="237" y="1318" width="26" height="10" rx="5"/>
<rect x="276" y="1317" width="27" height="12" rx="5"/>
<rect x="311" y="1317" width="26" height="11" rx="5"/>
<rect x="348" y="1317" width="27" height="12" rx="5"/>
<rect x="385" y="1316" width="27" height="12" rx="5"/>
<rect x="420" y="1316" width="25" height="10" rx="5"/>
<rect x="455" y="1314" width="27" height="9" rx="4"/>
</g>
<rect x="78" y="1298" width="419" height="47" fill="none" stroke="#333" stroke-width="2"/>

<!-- ============ Panel G (oncoprint) ============ -->
<g font-size="12.6" fill="#222" text-anchor="end">
<text x="637" y="1070.5">PAM50</text><text x="637" y="1088.5">Mutation type</text>
<text x="637" y="1111.3">TP53</text><text x="637" y="1128.3">CACNA1A</text><text x="637" y="1145.3">TTN</text><text x="637" y="1162.3">CSMD1</text><text x="637" y="1179.3">COL19A1</text><text x="637" y="1196.3">ABCC9</text><text x="637" y="1213.3">GPR98</text><text x="637" y="1230.3">PIK3CA</text><text x="637" y="1247.3">PTEN</text><text x="637" y="1264.3">ITIH6</text><text x="637" y="1281.3">SYNE1</text><text x="637" y="1298.3">BRINP1</text><text x="637" y="1315.3">DNAH8</text><text x="637" y="1332.3">SPTA1</text><text x="637" y="1349.3">ARFGEF1</text>
</g>
<g font-size="12.6" fill="#222">
<text x="1027" y="1111.3">70.0%</text><text x="1027" y="1128.3">30.0%</text><text x="1027" y="1145.3">30.0%</text><text x="1027" y="1162.3">30.0%</text><text x="1027" y="1179.3">25.0%</text><text x="1027" y="1196.3">25.0%</text><text x="1027" y="1213.3">25.0%</text><text x="1027" y="1230.3">25.0%</text><text x="1027" y="1247.3">25.0%</text><text x="1027" y="1264.3">25.0%</text><text x="1027" y="1281.3">25.0%</text><text x="1027" y="1298.3">25.0%</text><text x="1027" y="1315.3">25.0%</text><text x="1027" y="1332.3">20.0%</text><text x="1027" y="1349.3">20.0%</text>
</g>
<g>
<rect x="641.1" y="1059.3" width="18.5" height="14" fill="#b3e2cd"/><rect x="660.4" y="1059.3" width="18.5" height="14" fill="#b3e2cd"/><rect x="679.7" y="1059.3" width="18.5" height="14" fill="#b3e2cd"/><rect x="699" y="1059.3" width="18.5" height="14" fill="#b3e2cd"/><rect x="718.3" y="1059.3" width="18.5" height="14" fill="#b3e2cd"/>
<rect x="737.6" y="1059.3" width="18.5" height="14" fill="#fdcdac"/><rect x="756.9" y="1059.3" width="18.5" height="14" fill="#fdcdac"/><rect x="776.2" y="1059.3" width="18.5" height="14" fill="#fdcdac"/>
<rect x="795.5" y="1059.3" width="18.5" height="14" fill="#cbd5e8"/><rect x="814.8" y="1059.3" width="18.5" height="14" fill="#cbd5e8"/>
<rect x="834.1" y="1059.3" width="18.5" height="14" fill="#f4cae4"/><rect x="853.4" y="1059.3" width="18.5" height="14" fill="#f4cae4"/><rect x="872.7" y="1059.3" width="18.5" height="14" fill="#f4cae4"/><rect x="892" y="1059.3" width="18.5" height="14" fill="#f4cae4"/><rect x="911.3" y="1059.3" width="18.5" height="14" fill="#f4cae4"/><rect x="930.6" y="1059.3" width="18.5" height="14" fill="#f4cae4"/><rect x="949.9" y="1059.3" width="18.5" height="14" fill="#f4cae4"/><rect x="969.2" y="1059.3" width="18.5" height="14" fill="#f4cae4"/><rect x="988.5" y="1059.3" width="18.5" height="14" fill="#f4cae4"/><rect x="1007.8" y="1059.3" width="18.5" height="14" fill="#f4cae4"/>
</g>
<g>
<rect x="641.1" y="1076.7" width="18.5" height="14" fill="#fdcdac"/><rect x="660.4" y="1076.7" width="18.5" height="14" fill="#cbd5e8"/><rect x="679.7" y="1076.7" width="18.5" height="14" fill="#b3e2cd"/><rect x="699" y="1076.7" width="18.5" height="14" fill="#f4cae4"/><rect x="718.3" y="1076.7" width="18.5" height="14" fill="#cbd5e8"/>
<rect x="737.6" y="1076.7" width="18.5" height="14" fill="#fdcdac"/><rect x="756.9" y="1076.7" width="18.5" height="14" fill="#cbd5e8"/><rect x="776.2" y="1076.7" width="18.5" height="14" fill="#cbd5e8"/><rect x="795.5" y="1076.7" width="18.5" height="14" fill="#b3e2cd"/><rect x="814.8" y="1076.7" width="18.5" height="14" fill="#cbd5e8"/>
<rect x="834.1" y="1076.7" width="18.5" height="14" fill="#b3e2cd"/><rect x="853.4" y="1076.7" width="18.5" height="14" fill="#cbd5e8"/><rect x="872.7" y="1076.7" width="18.5" height="14" fill="#cbd5e8"/><rect x="892" y="1076.7" width="18.5" height="14" fill="#b3e2cd"/><rect x="911.3" y="1076.7" width="18.5" height="14" fill="#cbd5e8"/>
<rect x="930.6" y="1076.7" width="18.5" height="14" fill="#b3e2cd"/><rect x="949.9" y="1076.7" width="18.5" height="14" fill="#b3e2cd"/><rect x="969.2" y="1076.7" width="18.5" height="14" fill="#b3e2cd"/><rect x="988.5" y="1076.7" width="18.5" height="14" fill="#cbd5e8"/><rect x="1007.8" y="1076.7" width="18.5" height="14" fill="#cbd5e8"/>
</g>
<rect x="640.7" y="1098.3" width="385.9" height="255" fill="#f5f5f5"/>
<path stroke="#fff" stroke-width="1" d="M660,1098 V1354 M679.3,1098 V1354 M698.6,1098 V1354 M717.9,1098 V1354 M737.2,1098 V1354 M756.5,1098 V1354 M775.8,1098 V1354 M795.1,1098 V1354 M814.4,1098 V1354 M833.7,1098 V1354 M853,1098 V1354 M872.3,1098 V1354 M891.6,1098 V1354 M910.9,1098 V1354 M930.2,1098 V1354 M949.5,1098 V1354 M968.8,1098 V1354 M988.1,1098 V1354 M1007.4,1098 V1354 M640,1115.3 H1027 M640,1132.3 H1027 M640,1149.3 H1027 M640,1166.3 H1027 M640,1183.3 H1027 M640,1200.3 H1027 M640,1217.3 H1027 M640,1234.3 H1027 M640,1251.3 H1027 M640,1268.3 H1027 M640,1285.3 H1027 M640,1302.3 H1027 M640,1319.3 H1027 M640,1336.3 H1027"/>
<g>
<rect x="679.7" y="1098.8" width="18.5" height="16" fill="#ff7f0e"/><rect x="756.9" y="1098.8" width="18.5" height="16" fill="#ff7f0e"/><rect x="776.2" y="1098.8" width="18.5" height="16" fill="#ff7f0e"/><rect x="795.5" y="1098.8" width="18.5" height="16" fill="#ff7f0e"/><rect x="814.8" y="1098.8" width="18.5" height="16" fill="#2ca02c"/><rect x="834.1" y="1098.8" width="18.5" height="16" fill="#ff7f0e"/><rect x="853.4" y="1098.8" width="18.5" height="16" fill="#2ca02c"/><rect x="872.7" y="1098.8" width="18.5" height="16" fill="#ff7f0e"/><rect x="892" y="1098.8" width="18.5" height="16" fill="#1f77b4"/><rect x="911.3" y="1098.8" width="18.5" height="16" fill="#2ca02c"/><rect x="930.6" y="1098.8" width="18.5" height="16" fill="#1f77b4"/><rect x="949.9" y="1098.8" width="18.5" height="16" fill="#7f7f7f"/><rect x="988.5" y="1098.8" width="18.5" height="16" fill="#ff7f0e"/><rect x="1007.8" y="1098.8" width="18.5" height="16" fill="#1f77b4"/>
</g>
<g transform="translate(0,17)">
<rect x="699" y="1098.8" width="18.5" height="16" fill="#2ca02c"/><line x1="699" y1="1114.8" x2="717.5" y2="1098.8" stroke="#fff" stroke-width="0.8"/>
<rect x="814.8" y="1098.8" width="18.5" height="16" fill="#9467bd"/>
<rect x="872.7" y="1098.8" width="18.5" height="16" fill="#ff7f0e"/><line x1="872.7" y1="1114.8" x2="891.2" y2="1098.8" stroke="#fff" stroke-width="0.8"/>
<rect x="911.3" y="1098.8" width="18.5" height="16" fill="#ff7f0e"/><rect x="930.6" y="1098.8" width="18.5" height="16" fill="#d62728"/><rect x="949.9" y="1098.8" width="18.5" height="16" fill="#1f77b4"/>
</g>
<g transform="translate(0,34)">
<rect x="699" y="1098.8" width="18.5" height="16" fill="#17becf"/><rect x="737.6" y="1098.8" width="18.5" height="16" fill="#17becf"/><rect x="756.9" y="1098.8" width="18.5" height="16" fill="#ff7f0e"/>
<polygon points="795.5,1098.8 814,1098.8 795.5,1114.8" fill="#ff7f0e"/><polygon points="814,1098.8 814,1114.8 795.5,1114.8" fill="#d62728"/>
<rect x="872.7" y="1098.8" width="18.5" height="16" fill="#ff7f0e"/><rect x="911.3" y="1098.8" width="18.5" height="16" fill="#17becf"/>
</g>
<g transform="translate(0,51)">
<polygon points="699,1098.8 717.5,1098.8 699,1114.8" fill="#2ca02c"/><polygon points="717.5,1098.8 717.5,1114.8 699,1114.8" fill="#e377c2"/>
<rect x="814.8" y="1098.8" width="18.5" height="16" fill="#d62728"/><rect x="834.1" y="1098.8" width="18.5" height="16" fill="#8c564b"/><rect x="872.7" y="1098.8" width="18.5" height="16" fill="#ff7f0e"/><rect x="911.3" y="1098.8" width="18.5" height="16" fill="#ff7f0e"/><rect x="949.9" y="1098.8" width="18.5" height="16" fill="#ff7f0e"/>
</g>
<g transform="translate(0,68)">
<rect x="699" y="1098.8" width="18.5" height="16" fill="#2ca02c"/><rect x="737.6" y="1098.8" width="18.5" height="16" fill="#ff7f0e"/><rect x="834.1" y="1098.8" width="18.5" height="16" fill="#8c564b"/><rect x="892" y="1098.8" width="18.5" height="16" fill="#ff7f0e"/><rect x="911.3" y="1098.8" width="18.5" height="16" fill="#2ca02c"/>
</g>
<g transform="translate(0,85)">
<rect x="660.4" y="1098.8" width="18.5" height="16" fill="#ff7f0e"/><rect x="699" y="1098.8" width="18.5" height="16" fill="#2ca02c"/><rect x="737.6" y="1098.8" width="18.5" height="16" fill="#bcbd22"/>
<polygon points="853.4,1098.8 871.9,1098.8 853.4,1114.8" fill="#2ca02c"/><polygon points="871.9,1098.8 871.9,1114.8 853.4,1114.8" fill="#ff7f0e"/>
<rect x="949.9" y="1098.8" width="18.5" height="16" fill="#ff7f0e"/>
</g>
<g transform="translate(0,102)">
<rect x="679.7" y="1098.8" width="18.5" height="16" fill="#ff7f0e"/><rect x="699" y="1098.8" width="18.5" height="16" fill="#17becf"/>
<polygon points="737.6,1098.8 756.1,1098.8 737.6,1114.8" fill="#ff7f0e"/><polygon points="756.1,1098.8 756.1,1114.8 737.6,1114.8" fill="#d62728"/>
<rect x="853.4" y="1098.8" width="18.5" height="16" fill="#ff7f0e"/><rect x="911.3" y="1098.8" width="18.5" height="16" fill="#2ca02c"/>
</g>
<g transform="translate(0,119)">
<rect x="641.1" y="1098.8" width="18.5" height="16" fill="#ff7f0e"/><rect x="699" y="1098.8" width="18.5" height="16" fill="#ff7f0e"/><rect x="737.6" y="1098.8" width="18.5" height="16" fill="#ff7f0e"/><rect x="756.9" y="1098.8" width="18.5" height="16" fill="#ff7f0e"/><rect x="872.7" y="1098.8" width="18.5" height="16" fill="#d62728"/>
</g>
<g transform="translate(0,136)">
<rect x="679.7" y="1098.8" width="18.5" height="16" fill="#2ca02c"/><rect x="699" y="1098.8" width="18.5" height="16" fill="#2ca02c"/><rect x="737.6" y="1098.8" width="18.5" height="16" fill="#e377c2"/><rect x="776.2" y="1098.8" width="18.5" height="16" fill="#2ca02c"/><rect x="872.7" y="1098.8" width="18.5" height="16" fill="#ff7f0e"/>
</g>
<g transform="translate(0,153)">
<rect x="641.1" y="1098.8" width="18.5" height="16" fill="#e377c2"/>
<rect x="699" y="1098.8" width="18.5" height="16" fill="#2ca02c"/><line x1="699" y1="1114.8" x2="717.5" y2="1098.8" stroke="#fff" stroke-width="0.8"/>
<rect x="814.8" y="1098.8" width="18.5" height="16" fill="#ff7f0e"/><rect x="911.3" y="1098.8" width="18.5" height="16" fill="#ff7f0e"/><rect x="988.5" y="1098.8" width="18.5" height="16" fill="#ff7f0e"/>
</g>
<g transform="translate(0,170)">
<rect x="699" y="1098.8" width="18.5" height="16" fill="#17becf"/><rect x="853.4" y="1098.8" width="18.5" height="16" fill="#e377c2"/><rect x="872.7" y="1098.8" width="18.5" height="16" fill="#ff7f0e"/><rect x="911.3" y="1098.8" width="18.5" height="16" fill="#ff7f0e"/>
<rect x="969.2" y="1098.8" width="18.5" height="16" fill="#ff7f0e"/><line x1="969.2" y1="1114.8" x2="987.7" y2="1098.8" stroke="#fff" stroke-width="0.8"/>
</g>
<g transform="translate(0,187)">
<rect x="699" y="1098.8" width="18.5" height="16" fill="#2ca02c"/><rect x="737.6" y="1098.8" width="18.5" height="16" fill="#ff7f0e"/><rect x="892" y="1098.8" width="18.5" height="16" fill="#ff7f0e"/><rect x="911.3" y="1098.8" width="18.5" height="16" fill="#ff7f0e"/><rect x="988.5" y="1098.8" width="18.5" height="16" fill="#ff7f0e"/>
</g>
<g transform="translate(0,204)">
<rect x="699" y="1098.8" width="18.5" height="16" fill="#17becf"/><rect x="718.3" y="1098.8" width="18.5" height="16" fill="#2ca02c"/><rect x="911.3" y="1098.8" width="18.5" height="16" fill="#2ca02c"/><rect x="949.9" y="1098.8" width="18.5" height="16" fill="#ff7f0e"/><rect x="969.2" y="1098.8" width="18.5" height="16" fill="#17becf"/>
</g>
<g transform="translate(0,221)">
<rect x="641.1" y="1098.8" width="18.5" height="16" fill="#ff7f0e"/><rect x="699" y="1098.8" width="18.5" height="16" fill="#17becf"/><rect x="834.1" y="1098.8" width="18.5" height="16" fill="#ff7f0e"/><rect x="872.7" y="1098.8" width="18.5" height="16" fill="#ff7f0e"/>
</g>
<g transform="translate(0,238)">
<rect x="679.7" y="1098.8" width="18.5" height="16" fill="#ff7f0e"/><rect x="699" y="1098.8" width="18.5" height="16" fill="#2ca02c"/><rect x="892" y="1098.8" width="18.5" height="16" fill="#1f77b4"/><rect x="911.3" y="1098.8" width="18.5" height="16" fill="#17becf"/>
</g>
<g font-size="11" fill="#222">
<text x="1075" y="1079">Mutation type</text>
<rect x="1075" y="1087.2" width="21" height="7" fill="#fdcdac"/><text x="1106" y="1094.7">Missense</text>
<rect x="1075" y="1102.5" width="21" height="7" fill="#cbd5e8"/><text x="1106" y="1110">Fusion</text>
<rect x="1075" y="1117.8" width="21" height="7" fill="#b3e2cd"/><text x="1106" y="1125.3">Deletion</text>
<rect x="1075" y="1133.2" width="21" height="7" fill="#f4cae4"/><text x="1106" y="1140.7">Frame_Shift_Del</text>
<text x="1075" y="1171.3">PAM50</text>
<rect x="1075" y="1179.2" width="21" height="7" fill="#b3e2cd"/><text x="1106" y="1186.7">LumA</text>
<rect x="1075" y="1194.5" width="21" height="7" fill="#fdcdac"/><text x="1106" y="1202">LumB</text>
<rect x="1075" y="1209.8" width="21" height="7" fill="#cbd5e8"/><text x="1106" y="1217.3">Her2-enriched</text>
<rect x="1075" y="1225.2" width="21" height="7" fill="#f4cae4"/><text x="1106" y="1232.7">Basal</text>
<text x="1208" y="1079.7">SNV type</text>
<rect x="1208" y="1087.5" width="22" height="7" fill="#ff7f0e"/><text x="1239" y="1095">Missense_Mutation</text>
<rect x="1208" y="1102.8" width="22" height="7" fill="#2ca02c"/><text x="1239" y="1110.3">Frame_Shift_Del</text>
<rect x="1208" y="1118.2" width="22" height="7" fill="#1f77b4"/><text x="1239" y="1125.7">Nonsense_Mutation</text>
<rect x="1208" y="1133.8" width="22" height="7" fill="#17becf"/><text x="1239" y="1141.3">Multiple</text>
<rect x="1208" y="1149.2" width="22" height="7" fill="#1cb8cc"/><text x="1239" y="1156.7">3'UTR</text>
<rect x="1208" y="1164.5" width="22" height="7" fill="#e377c2"/><text x="1239" y="1172">Splice_Site</text>
<rect x="1208" y="1179.8" width="22" height="7" fill="#d62728"/><text x="1239" y="1187.3">Silent</text>
<rect x="1208" y="1195.2" width="22" height="7" fill="#bcbd22"/><text x="1239" y="1202.7">3'Flank</text>
<rect x="1208" y="1210.5" width="22" height="7" fill="#8c564b"/><text x="1239" y="1218">Splice_Region</text>
<rect x="1208" y="1225.8" width="22" height="7" fill="#9467bd"/><text x="1239" y="1233.3">Intron</text>
<rect x="1208" y="1241.5" width="22" height="7" fill="#7f7f7f"/><text x="1239" y="1249">Frame_Shift_Ins</text>
</g>

<!-- ============ Panel H (KM plots) ============ -->
<g fill="none" stroke="#222" stroke-width="1.2">
<rect x="58.6" y="1403" width="274.4" height="229"/>
<rect x="399.4" y="1403" width="270.6" height="229"/>
<rect x="740" y="1403" width="271" height="229"/>
<rect x="1076.7" y="1403" width="268.8" height="229"/>
<path d="M52.6,1623.4 H58.6 M52.6,1581 H58.6 M52.6,1538.7 H58.6 M52.6,1496.3 H58.6 M52.6,1454 H58.6 M52.6,1411.6 H58.6 M68.6,1632 v6 M123.1,1632 v6 M177.6,1632 v6 M232.1,1632 v6 M286.6,1632 v6"/>
<path d="M393.4,1623.4 H399.4 M393.4,1581 H399.4 M393.4,1538.7 H399.4 M393.4,1496.3 H399.4 M393.4,1454 H399.4 M393.4,1411.6 H399.4 M410.4,1632 v6 M455.7,1632 v6 M501,1632 v6 M546.3,1632 v6 M591.6,1632 v6 M636.9,1632 v6"/>
<path d="M734,1623.4 H740 M734,1581 H740 M734,1538.7 H740 M734,1496.3 H740 M734,1454 H740 M734,1411.6 H740 M749.9,1632 v6 M810.8,1632 v6 M871.7,1632 v6 M932.6,1632 v6 M993.5,1632 v6"/>
<path d="M1070.7,1623.4 H1076.7 M1070.7,1581 H1076.7 M1070.7,1538.7 H1076.7 M1070.7,1496.3 H1076.7 M1070.7,1454 H1076.7 M1070.7,1411.6 H1076.7 M1086.2,1632 v6 M1130.2,1632 v6 M1174.2,1632 v6 M1218.2,1632 v6 M1262.2,1632 v6 M1306.2,1632 v6"/>
</g>
<g font-size="16" fill="#111" text-anchor="middle">
<text x="195.8" y="1399">Luminal A</text><text x="534.7" y="1399">Luminal B</text><text x="878.9" y="1399">Her2+</text><text x="1217.8" y="1399">Basal-like</text>
</g>
<g font-size="16" fill="#111" text-anchor="middle">
<text transform="translate(24,1517) rotate(-90)" y="6">Survival Probability</text>
<text transform="translate(364.8,1517) rotate(-90)" y="6">Survival Probability</text>
<text transform="translate(703.7,1517) rotate(-90)" y="6">Survival Probability</text>
<text transform="translate(1041.3,1517) rotate(-90)" y="6">Survival Probability</text>
</g>
<g font-size="11" fill="#222" text-anchor="middle">
<g id="ylabs1">
<text transform="translate(43.5,1623.4) rotate(-90)" y="4">0.0</text><text transform="translate(43.5,1581) rotate(-90)" y="4">0.2</text><text transform="translate(43.5,1538.7) rotate(-90)" y="4">0.4</text><text transform="translate(43.5,1496.3) rotate(-90)" y="4">0.6</text><text transform="translate(43.5,1454) rotate(-90)" y="4">0.8</text><text transform="translate(43.5,1411.6) rotate(-90)" y="4">1.0</text>
</g>
<use href="#ylabs1" x="340.8"/><use href="#ylabs1" x="679.5"/><use href="#ylabs1" x="1017"/>
<g font-size="11.5">
<text x="68.6" y="1649">0</text><text x="123.1" y="1649">50</text><text x="177.6" y="1649">100</text><text x="232.1" y="1649">150</text><text x="286.6" y="1649">200</text>
<text x="410.4" y="1649">0</text><text x="455.7" y="1649">50</text><text x="501" y="1649">100</text><text x="546.3" y="1649">150</text><text x="591.6" y="1649">200</text><text x="636.9" y="1649">250</text>
<text x="749.9" y="1649">0</text><text x="810.8" y="1649">50</text><text x="871.7" y="1649">100</text><text x="932.6" y="1649">150</text><text x="993.5" y="1649">200</text>
<text x="1086.2" y="1649">0</text><text x="1130.2" y="1649">50</text><text x="1174.2" y="1649">100</text><text x="1218.2" y="1649">150</text><text x="1262.2" y="1649">200</text><text x="1306.2" y="1649">250</text>
</g>
<g font-size="12">
<text x="195.8" y="1668" textLength="79" lengthAdjust="spacingAndGlyphs">Time (months)</text>
<text x="534.7" y="1668" textLength="79" lengthAdjust="spacingAndGlyphs">Time (months)</text>
<text x="875.5" y="1668" textLength="79" lengthAdjust="spacingAndGlyphs">Time (months)</text>
<text x="1211" y="1668" textLength="79" lengthAdjust="spacingAndGlyphs">Time (months)</text>
</g>
</g>
<g font-size="12" fill="#222" text-anchor="end">
<text x="325.7" y="1436" textLength="130" lengthAdjust="spacingAndGlyphs">HR = 0.91 (0.73 − 1.13)</text>
<text x="325.7" y="1450" textLength="89" lengthAdjust="spacingAndGlyphs">logrank P = 0.38</text>
<text x="666" y="1442" textLength="128" lengthAdjust="spacingAndGlyphs">HR = 0.85 (0.71 − 1.01)</text>
<text x="666" y="1455" textLength="95" lengthAdjust="spacingAndGlyphs">logrank P = 0.066</text>
<text x="1005.8" y="1441" textLength="110" lengthAdjust="spacingAndGlyphs">HR = 0.77 (0.59 − 1)</text>
<text x="1005.8" y="1455" textLength="95" lengthAdjust="spacingAndGlyphs">logrank P = 0.049</text>
<text x="1343" y="1441" textLength="129" lengthAdjust="spacingAndGlyphs">HR = 0.77 (0.62 − 0.96)</text>
<text x="1343" y="1455" textLength="95" lengthAdjust="spacingAndGlyphs">logrank P = 0.018</text>
</g>
<g font-size="12.5" fill="#222">
<text x="67" y="1581">Rad51b</text><text x="67" y="1593.5">Expression</text><text x="104" y="1610" textLength="68" lengthAdjust="spacingAndGlyphs">Low (n=626)</text><text x="104" y="1622.5" textLength="77" lengthAdjust="spacingAndGlyphs">High (n=1183)</text>
<text x="406" y="1581">Rad51b</text><text x="406" y="1593.5">Expression</text><text x="444" y="1610" textLength="68" lengthAdjust="spacingAndGlyphs">Low (n=569)</text><text x="444" y="1622.5" textLength="70" lengthAdjust="spacingAndGlyphs">High (n=784)</text>
<text x="745" y="1580">Rad51b</text><text x="745" y="1592.5">Expression</text><text x="783" y="1609" textLength="68" lengthAdjust="spacingAndGlyphs">Low (n=456)</text><text x="783" y="1621.5" textLength="71" lengthAdjust="spacingAndGlyphs">High (n=239)</text>
<text x="1083" y="1580">Rad51b</text><text x="1083" y="1592.5">Expression</text><text x="1121" y="1609" textLength="68" lengthAdjust="spacingAndGlyphs">Low (n=452)</text><text x="1121" y="1621.5" textLength="71" lengthAdjust="spacingAndGlyphs">High (n=501)</text>
</g>
<g stroke-width="1.8" fill="none">
<path stroke="#000" d="M69.5,1606 H93.4 M412.5,1606 H434 M750.7,1605 H774.2 M1086,1605 H1111.8"/>
<path stroke="#e8261e" d="M69.5,1618.3 H93.4 M412.5,1618.3 H434 M750.7,1617.7 H774.2 M1086,1617.7 H1111.8"/>
</g>
<g fill="none" stroke-width="2.9" stroke-linejoin="round">
<polyline stroke="#000" points="68.6,1411.6 79.5,1415.8 95.9,1426.4 112.2,1437 123.1,1444.4 134,1449.7 150.4,1456.1 166.7,1460.3 177.6,1464.6 194,1468.8 204.9,1475.1 221.2,1477.3 232.1,1479.4 243,1481.5 259.4,1483.6 270.3,1490 275.7,1498.4 303,1498.4"/>
<polyline stroke="#e8261e" points="68.6,1411.6 79.5,1414.8 95.9,1422.2 112.2,1432.8 123.1,1439.1 134,1444.4 150.4,1450.8 166.7,1456.1 177.6,1459.3 194,1463.5 204.9,1468.8 221.2,1473 232.1,1479.4 243,1479.4 259.4,1481.5 270.3,1487.8 281.2,1492.1 317.1,1492.1"/>
<polyline stroke="#000" points="410.4,1411.6 414.9,1414.8 419.5,1420.1 424,1428.5 428.5,1437 433,1445.5 437.6,1456.1 442.1,1464.6 446.6,1473 451.2,1479.4 455.7,1484.7 464.8,1492.1 473.8,1497.4 482.9,1502.7 491.9,1506.9 501,1508 510.1,1512.2 519.1,1515.4 528.2,1516.4 537.2,1521.7 544.5,1525 546.3,1529.1 600,1529.1"/>
<polyline stroke="#e8261e" points="410.4,1411.6 414.9,1414.8 419.5,1419 424,1425.4 428.5,1432.8 433,1441.3 437.6,1449.7 442.1,1458.2 446.6,1464.6 451.2,1470.9 455.7,1475.1 464.8,1482.6 473.8,1488.9 482.9,1493.1 491.9,1497.4 501,1501.6 510.1,1504.8 519.1,1508 528.2,1512.2 537.2,1515.4 546.3,1517.5 555.4,1519.6 600,1519.6"/>
<polyline stroke="#000" points="749.9,1411.6 753.6,1413.7 757.2,1417.9 762.1,1426.4 765.7,1434.9 769.4,1445.5 774.3,1456.1 780.4,1466.7 786.4,1475.1 792.5,1479.4 798.6,1485.7 804.7,1492.1 810.8,1496.3 816.9,1498.4 823,1500.6 835.2,1502.7 859.5,1502.7 871.7,1504.8 883.9,1506.9 896.1,1513.3 902.2,1515.4 944.8,1515.4 947.2,1523.9 949.6,1532.3 957,1532.3 959.4,1545 970,1545"/>
<polyline stroke="#e8261e" points="749.9,1411.6 756,1417.9 762.1,1426.4 768.2,1437 774.3,1449.7 780.4,1456.1 786.4,1464.6 792.5,1470.9 798.6,1475.1 810.8,1479.4 823,1481.5 835.2,1483.6 841.3,1486.8 847.3,1490 853.4,1492.1 983.8,1492.1"/>
<polyline stroke="#000" points="1086.2,1411.6 1088.8,1417.9 1090.6,1424.3 1093.2,1432.8 1095,1441.3 1096.8,1447.6 1099.4,1456.1 1102,1464.6 1103.8,1468.8 1108.2,1475.1 1112.6,1481.5 1117,1484.7 1121.4,1487.8 1130.2,1492.1 1139,1496.3 1152.2,1496.3 1161,1499.5 1169.8,1502.7 1178.6,1504.8 1187.4,1505.9 1191.8,1508 1227,1508 1228.8,1517.5 1240,1517.5"/>
<polyline stroke="#e8261e" points="1086.2,1411.6 1090.6,1417.9 1093.2,1424.3 1095,1430.7 1097.6,1439.1 1100.3,1447.6 1103.8,1454 1108.2,1460.3 1112.6,1466.7 1117,1470.9 1121.4,1475.1 1125.8,1478.3 1130.2,1480.4 1139,1481.5 1147.8,1484.7 1156.6,1487.8 1174.2,1487.8 1183,1490 1191.8,1492.1 1196.2,1495.3 1200.6,1496.3 1262.2,1496.3"/>
</g>
<!-- thin tails -->
<g fill="none" stroke-width="1.6">
<path stroke="#000" d="M303,1498.4 V1560.9 H322.6 M600,1529.1 H662.3 M970,1545 H1003.2 M1240,1517.5 H1341.4"/>
<path stroke="#e8261e" d="M317.1,1492.1 V1623.4 M600,1519.6 H629.7"/>
</g>
<g fill="none" stroke-width="1.2">
<path stroke="#000" d="M280,1495 v7 M285,1495 v7 M290,1495 v7 M295,1495 v7 M300,1495 v7 M322.6,1557.5 v7 M550,1525.6 v7 M556,1525.6 v7 M562,1525.6 v7 M570,1525.6 v7 M578,1525.6 v7 M586,1525.6 v7 M600,1525.6 v7 M620,1525.6 v7 M640,1525.6 v7 M660,1525.6 v7 M830,1499.2 v7 M836,1499.2 v7 M842,1499.2 v7 M848,1499.2 v7 M854,1499.2 v7 M906,1511.9 v7 M912,1511.9 v7 M918,1511.9 v7 M924,1511.9 v7 M930,1511.9 v7 M936,1511.9 v7 M942,1511.9 v7 M965,1541.5 v7 M972,1541.5 v7 M985,1541.5 v7 M998,1541.5 v7 M1002,1541.5 v7 M1196,1504.5 v7 M1201,1504.5 v7 M1206,1504.5 v7 M1211,1504.5 v7 M1216,1504.5 v7 M1221,1504.5 v7 M1233,1514 v7 M1239,1514 v7 M1246,1514 v7 M1253,1514 v7 M1263,1514 v7 M1285,1514 v7 M1306,1514 v7 M1341,1514 v7"/>
<path stroke="#e8261e" d="M285,1488.6 v7 M295,1488.6 v7 M305,1488.6 v7 M312,1488.6 v7 M560,1516.1 v7 M566,1516.1 v7 M572,1516.1 v7 M580,1516.1 v7 M590,1516.1 v7 M600,1516.1 v7 M610,1516.1 v7 M620,1516.1 v7 M629,1516.1 v7 M860,1488.6 v7 M866,1488.6 v7 M872,1488.6 v7 M878,1488.6 v7 M884,1488.6 v7 M890,1488.6 v7 M896,1488.6 v7 M902,1488.6 v7 M908,1488.6 v7 M914,1488.6 v7 M920,1488.6 v7 M926,1488.6 v7 M932,1488.6 v7 M940,1488.6 v7 M950,1488.6 v7 M960,1488.6 v7 M972,1488.6 v7 M983,1488.6 v7 M1205,1492.8 v7 M1210,1492.8 v7 M1215,1492.8 v7 M1220,1492.8 v7 M1226,1492.8 v7 M1232,1492.8 v7 M1240,1492.8 v7 M1250,1492.8 v7 M1256,1492.8 v7 M1262,1492.8 v7"/>
</g>
</svg>
</body></html>
